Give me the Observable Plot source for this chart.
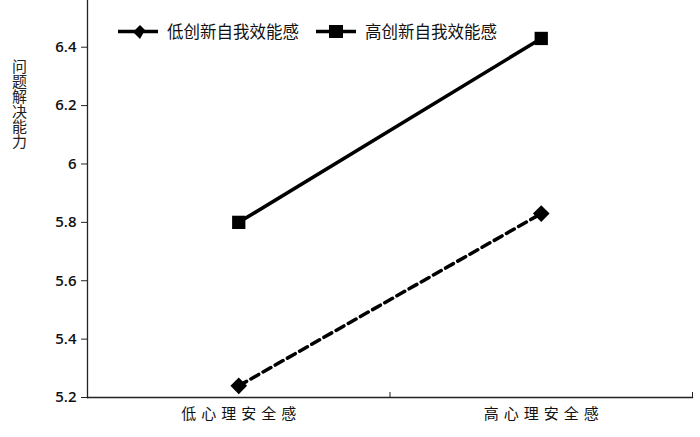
<!DOCTYPE html>
<html><head><meta charset="utf-8">
<script src="https://cdn.jsdelivr.net/npm/d3@7"></script>
<script src="https://cdn.jsdelivr.net/npm/@observablehq/plot@0.6"></script>
<style>
body{margin:0;background:#fff;}
#wrap{position:relative;width:700px;height:437px;font-family:"Noto Sans CJK SC","Noto Sans",sans-serif;}
#ytitle{position:absolute;left:9px;top:59px;font-size:15px;letter-spacing:0;writing-mode:vertical-rl;text-orientation:upright;color:#222;}
#legend{position:absolute;top:19px;left:117px;display:flex;align-items:center;font-size:16.5px;color:#111;}
#legend .item{display:flex;align-items:center;}
#legend svg{margin-right:8px;}
</style>
</head><body>
<div id="wrap"><div id="ytitle"></div><div id="legend"></div></div>
<script>
const categories = ["低心理安全感", "高心理安全感"];
const seriesNames = ["低创新自我效能感", "高创新自我效能感"];
const lowEfficacy = [5.24, 5.83];
const highEfficacy = [5.80, 6.43];
const yTicks = [5.2, 5.4, 5.6, 5.8, 6, 6.2, 6.4];
const yTitle = "问题解决能力";

const rows = [];
categories.forEach((c, i) => {
  rows.push({x: i + 0.5, y: lowEfficacy[i], s: seriesNames[0]});
  rows.push({x: i + 0.5, y: highEfficacy[i], s: seriesNames[1]});
});
const low = rows.filter(d => d.s === seriesNames[0]);
const high = rows.filter(d => d.s === seriesNames[1]);

const chart = Plot.plot({
  width: 700, height: 437,
  marginLeft: 87, marginRight: 8, marginTop: 0, marginBottom: 40,
  style: {fontFamily: "'Open Sans','Noto Sans CJK SC',sans-serif", color: "#111", background: "#fff"},
  x: {type: "linear", domain: [0, categories.length]},
  y: {domain: [5.2, 6.56]},
  marks: [
    Plot.axisY({ticks: yTicks, tickSize: 6, tickPadding: 5, fontSize: 15, fontWeight: 600, tickFormat: d => String(d), label: null, stroke: "#222"}),
    Plot.axisX({ticks: categories.map((c, i) => i + 0.5), tickSize: 0, tickPadding: 11, fontSize: 15, tickFormat: d => categories[Math.floor(d)], label: null, fontFamily: "'Noto Sans CJK SC',sans-serif"}),
    Plot.axisX({ticks: categories.map((c, i) => i + 1), tickSize: -5, tickFormat: () => "", label: null, stroke: "#222"}),
    Plot.frame({anchor: "left", stroke: "#222", strokeWidth: 1.3}),
    Plot.frame({anchor: "bottom", stroke: "#222", strokeWidth: 1.3}),
    Plot.line(low, {x: "x", y: "y", stroke: "#000", strokeWidth: 3.5, strokeDasharray: "9,5"}),
    Plot.line(high, {x: "x", y: "y", stroke: "#000", strokeWidth: 3.5}),
    Plot.dot(low, {x: "x", y: "y", symbol: "diamond2", fill: "#000", r: 7.5}),
    Plot.dot(high, {x: "x", y: "y", symbol: "square", fill: "#000", r: 7.5})
  ]
});
const wrap = document.getElementById("wrap");
wrap.insertBefore(chart, wrap.firstChild);
chart.style.position = "absolute"; chart.style.left = "0"; chart.style.top = "0";
d3.select(chart).selectAll("g[aria-label='x-axis tick label'] text")
  .attr("letter-spacing", "5px").attr("dx", "2.5px");

document.getElementById("ytitle").textContent = yTitle;

const leg = document.getElementById("legend");
seriesNames.forEach((name, i) => {
  const item = document.createElement("div"); item.className = "item";
  item.style.marginRight = i === 0 ? "16px" : "0";
  const shape = i === 0
    ? `<path d="M16,10 l7,-7 l5,5 l-5,9 z" fill="#000"/>`
    : `<rect x="14" y="3" width="14" height="13" fill="#000"/>`;
  item.innerHTML = `<svg width="42" height="19"><line x1="1" x2="41" y1="9.5" y2="9.5" stroke="#000" stroke-width="3.5"/>${shape}</svg><span>${name}</span>`;
  leg.appendChild(item);
});
</script>
</body></html>
